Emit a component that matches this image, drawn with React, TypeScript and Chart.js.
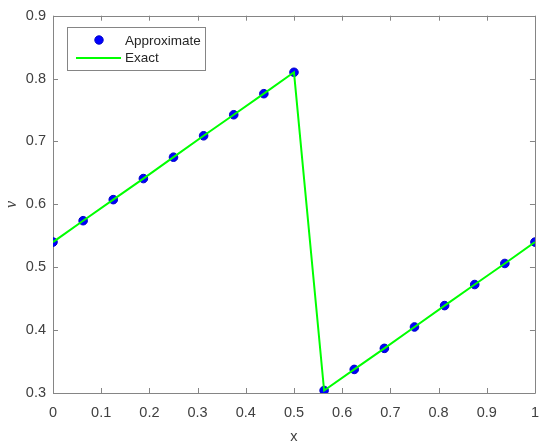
import React, { useEffect, useRef } from 'react';
import { Chart, registerables } from 'chart.js';

Chart.register(...registerables);

const xValues = [0, 0.0625, 0.125, 0.1875, 0.25, 0.3125, 0.375, 0.4375, 0.5, 0.5625, 0.625, 0.6875, 0.75, 0.8125, 0.875, 0.9375, 1];
const approximateValues = [0.54, 0.574, 0.6075, 0.641, 0.675, 0.709, 0.7425, 0.776, 0.81, 0.304, 0.3375, 0.371, 0.405, 0.439, 0.4725, 0.506, 0.54];
const exactValues = [0.54, 0.574, 0.6075, 0.641, 0.675, 0.709, 0.7425, 0.776, 0.81, 0.304, 0.3375, 0.371, 0.405, 0.439, 0.4725, 0.506, 0.54];
const xTicks = [0, 0.1, 0.2, 0.3, 0.4, 0.5, 0.6, 0.7, 0.8, 0.9, 1];
const yTicks = [0.3, 0.4, 0.5, 0.6, 0.7, 0.8, 0.9];
const tickLabelsX = ['0', '0.1', '0.2', '0.3', '0.4', '0.5', '0.6', '0.7', '0.8', '0.9', '1'];
const tickLabelsY = ['0.3', '0.4', '0.5', '0.6', '0.7', '0.8', '0.9'];
const legendLabels = ['Approximate', 'Exact'];

const AXIS_COLOR = '#858585';
const TEXT_COLOR = '#404040';
const FONT = "'Liberation Sans', Arial, sans-serif";

const framePlugin = {
  id: 'frame',
  beforeDatasetsDraw(chart: any) {
    const { ctx, chartArea } = chart;
    const { left, right, top, bottom } = chartArea;
    const xs = chart.scales.x;
    const ys = chart.scales.y;
    ctx.save();
    ctx.strokeStyle = AXIS_COLOR;
    ctx.lineWidth = 1;
    ctx.beginPath();
    ctx.rect(Math.round(left) + 0.5, Math.round(top) + 0.5, Math.round(right - left), Math.round(bottom - top));
    ctx.stroke();
    const tl = 5;
    ctx.beginPath();
    xTicks.forEach((v) => {
      const px = Math.round(xs.getPixelForValue(v)) + 0.5;
      ctx.moveTo(px, bottom);
      ctx.lineTo(px, bottom - tl);
      ctx.moveTo(px, top);
      ctx.lineTo(px, top + tl);
    });
    yTicks.forEach((v) => {
      const py = Math.round(ys.getPixelForValue(v)) + 0.5;
      ctx.moveTo(left, py);
      ctx.lineTo(left + tl, py);
      ctx.moveTo(right, py);
      ctx.lineTo(right - tl, py);
    });
    ctx.stroke();
    ctx.restore();
  },
  afterDraw(chart: any) {
    const { ctx } = chart;
    ctx.save();
    ctx.fillStyle = '#ffffff';
    ctx.strokeStyle = AXIS_COLOR;
    ctx.lineWidth = 1;
    ctx.fillRect(67.5, 27.5, 138, 43);
    ctx.strokeRect(67.5, 27.5, 138, 43);
    // marker
    ctx.beginPath();
    ctx.arc(99, 40, 4.2, 0, Math.PI * 2);
    ctx.fillStyle = '#0000ff';
    ctx.fill();
    ctx.strokeStyle = '#0000c8';
    ctx.lineWidth = 1;
    ctx.stroke();
    // line
    ctx.beginPath();
    ctx.moveTo(76, 58);
    ctx.lineTo(121, 58);
    ctx.strokeStyle = '#00ff00';
    ctx.lineWidth = 2;
    ctx.stroke();
    ctx.fillStyle = '#262626';
    ctx.font = `13.5px ${FONT}`;
    ctx.textBaseline = 'middle';
    ctx.textAlign = 'left';
    ctx.fillText(legendLabels[0], 125, 41);
    ctx.fillText(legendLabels[1], 125, 58);
    ctx.restore();
  },
};

export default function App() {
  const ref = useRef<HTMLCanvasElement | null>(null);
  useEffect(() => {
    if (!ref.current) return;
    const chart = new Chart(ref.current, {
      type: 'scatter',
      data: {
        datasets: [
          {
            label: legendLabels[1],
            data: xValues.map((x, i) => ({ x, y: exactValues[i] })),
            showLine: true,
            borderColor: '#00ff00',
            backgroundColor: '#00ff00',
            borderWidth: 2,
            pointRadius: 0,
            pointHoverRadius: 0,
            tension: 0,
          } as any,
          {
            label: legendLabels[0],
            data: xValues.map((x, i) => ({ x, y: approximateValues[i] })),
            showLine: false,
            backgroundColor: '#0000ff',
            borderColor: '#0000c8',
            borderWidth: 1,
            pointRadius: 4.3,
            pointStyle: 'circle',
          } as any,
        ],
      },
      options: {
        animation: false,
        responsive: false,
        maintainAspectRatio: false,
        devicePixelRatio: 1,
        layout: { padding: { left: 0, top: 13, right: 14, bottom: 0 } },
        plugins: {
          legend: { display: false },
          tooltip: { enabled: false },
        },
        scales: {
          x: {
            type: 'linear',
            min: 0,
            max: 1,
            grid: { display: false, drawTicks: false },
            border: { display: false },
            afterBuildTicks: (s: any) => {
              s.ticks = xTicks.map((v) => ({ value: v }));
            },
            afterFit: (s: any) => {
              s.height = 54;
            },
            ticks: {
              autoSkip: false,
              maxRotation: 0,
              padding: 11,
              color: TEXT_COLOR,
              font: { family: FONT, size: 14.5 },
              callback: (_v: any, i: number) => tickLabelsX[i],
            },
            title: {
              display: true,
              text: 'x',
              color: TEXT_COLOR,
              font: { family: FONT, size: 14.5, lineHeight: 1.4 },
              padding: 0,
            },
          },
          y: {
            type: 'linear',
            min: 0.3,
            max: 0.9,
            grid: { display: false, drawTicks: false },
            border: { display: false },
            afterBuildTicks: (s: any) => {
              s.ticks = yTicks.map((v) => ({ value: v }));
            },
            afterFit: (s: any) => {
              s.width = 53;
            },
            ticks: {
              autoSkip: false,
              padding: 7,
              color: TEXT_COLOR,
              font: { family: FONT, size: 14.5 },
              callback: (_v: any, i: number) => tickLabelsY[i],
            },
            title: {
              display: true,
              text: 'ν',
              color: TEXT_COLOR,
              font: { family: "'Liberation Serif', serif", size: 16, style: 'italic', lineHeight: 1.5 },
              padding: 0,
            },
          },
        },
      } as any,
      plugins: [framePlugin],
    });
    return () => chart.destroy();
  }, []);
  return (
    <div style={{ position: 'fixed', left: 0, top: 0, width: 550, height: 447, background: '#ffffff' }}>
      <canvas ref={ref} width={550} height={447} style={{ width: 550, height: 447, display: 'block' }} />
    </div>
  );
}
